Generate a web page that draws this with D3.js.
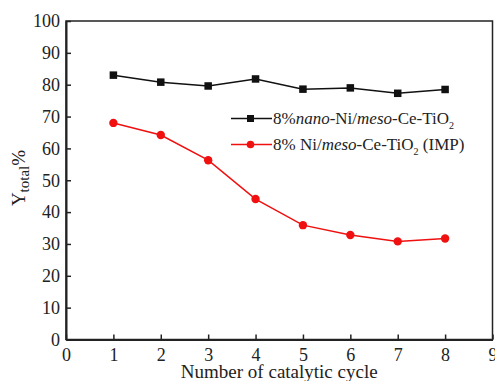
<html>
<script src='https://d3js.org/d3.v7.min.js'></script>
<style>
body {margin: 0; background: white;}
text {font-family: "Liberation Serif", "Times New Roman", serif;}
</style>
<body>
<svg width=495 height=381></svg>
<script>
var cycles = [1, 2, 3, 4, 5, 6, 7, 8];
var nanoNi = [83.0, 80.8, 79.6, 81.8, 78.6, 79.0, 77.3, 78.5];
var impNi = [68.0, 64.2, 56.3, 44.1, 35.9, 32.8, 30.8, 31.7];
var xTicks = [0, 1, 2, 3, 4, 5, 6, 7, 8, 9];
var yTicks = [0, 10, 20, 30, 40, 50, 60, 70, 80, 90, 100];

var pLeft = 66, pTop = 21, pRight = 492.5, pBottom = 339.5;
var svg = d3.select("svg");

var x = d3.scaleLinear().domain([0, 9]).range([pLeft, pRight]);
var y = d3.scaleLinear().domain([0, 100]).range([pBottom, pTop]);

// frame
svg.append("rect")
   .attr("x", pLeft).attr("y", pTop)
   .attr("width", pRight - pLeft).attr("height", pBottom - pTop)
   .attr("fill", "none").attr("stroke", "#222").attr("stroke-width", 1.5);

var xAxis = svg.append("g")
   .attr("transform", "translate(0," + pBottom + ")")
   .call(d3.axisBottom(x).tickValues(xTicks).tickSizeInner(-5).tickSizeOuter(0).tickPadding(9));
var yAxis = svg.append("g")
   .attr("transform", "translate(" + pLeft + ",0)")
   .call(d3.axisLeft(y).tickValues(yTicks).tickSizeInner(-5).tickSizeOuter(0).tickPadding(9));

[xAxis, yAxis].forEach(function(g) {
  g.select(".domain").attr("stroke", "#222").attr("stroke-width", 2);
  g.selectAll(".tick line").attr("stroke", "#222").attr("stroke-width", 1.5);
  g.selectAll(".tick text").style("font-size", "18px").attr("fill", "#222")
   .style("font-family", "Liberation Serif");
});
xAxis.selectAll(".tick text").attr("dy", "0.7em");
yAxis.selectAll(".tick text").attr("dx", "3");

svg.append("text")
   .attr("x", (pLeft + pRight) / 2).attr("y", 378)
   .attr("text-anchor", "middle").style("font-size", "19px").attr("fill", "#222")
   .text("Number of catalytic cycle");

var yl = svg.append("text")
   .attr("transform", "translate(25,178) rotate(-90)")
   .attr("text-anchor", "middle").style("font-size", "19px").attr("fill", "#222");
yl.append("tspan").text("Y");
yl.append("tspan").attr("dy", 4).style("font-size", "15px").text("total");
yl.append("tspan").attr("dy", -4).text("%");

var line = d3.line().x(function(d, i) { return x(cycles[i]); }).y(function(d) { return y(d); });

svg.append("path").datum(nanoNi).attr("d", line)
   .attr("fill", "none").attr("stroke", "#111").attr("stroke-width", 1.5);
svg.append("g").selectAll("rect").data(nanoNi).enter().append("rect")
   .attr("x", function(d, i) { return x(cycles[i]) - 3.75; })
   .attr("y", function(d) { return y(d) - 3.75; })
   .attr("width", 7.5).attr("height", 7.5).attr("fill", "#111");

svg.append("path").datum(impNi).attr("d", line)
   .attr("fill", "none").attr("stroke", "#f01010").attr("stroke-width", 1.5);
svg.append("g").selectAll("circle").data(impNi).enter().append("circle")
   .attr("cx", function(d, i) { return x(cycles[i]); })
   .attr("cy", function(d) { return y(d); })
   .attr("r", 4.2).attr("fill", "#f01010");

// legend
var lg = svg.append("g");
lg.append("line").attr("x1", 231).attr("x2", 272).attr("y1", 118.5).attr("y2", 118.5)
  .attr("stroke", "#111").attr("stroke-width", 1.5);
lg.append("rect").attr("x", 247).attr("y", 115).attr("width", 7).attr("height", 7).attr("fill", "#111");
lg.append("line").attr("x1", 231).attr("x2", 272).attr("y1", 144.5).attr("y2", 144.5)
  .attr("stroke", "#f01010").attr("stroke-width", 1.5);
lg.append("circle").attr("cx", 250.5).attr("cy", 144.5).attr("r", 3.8).attr("fill", "#f01010");

var t1 = lg.append("text").attr("x", 273).attr("y", 124).style("font-size", "17px").attr("fill", "#222");
t1.append("tspan").text("8%");
t1.append("tspan").style("font-style", "italic").text("nano");
t1.append("tspan").text("-Ni/");
t1.append("tspan").style("font-style", "italic").text("meso");
t1.append("tspan").text("-Ce-TiO");
t1.append("tspan").attr("dy", 5).style("font-size", "10px").text("2");

var t2 = lg.append("text").attr("x", 273).attr("y", 150).style("font-size", "17px").attr("fill", "#222");
t2.append("tspan").text("8% Ni/");
t2.append("tspan").style("font-style", "italic").text("meso");
t2.append("tspan").text("-Ce-TiO");
t2.append("tspan").attr("dy", 5).style("font-size", "10px").text("2");
t2.append("tspan").attr("dy", -5).text(" (IMP)");
</script>
</body>
</html>
